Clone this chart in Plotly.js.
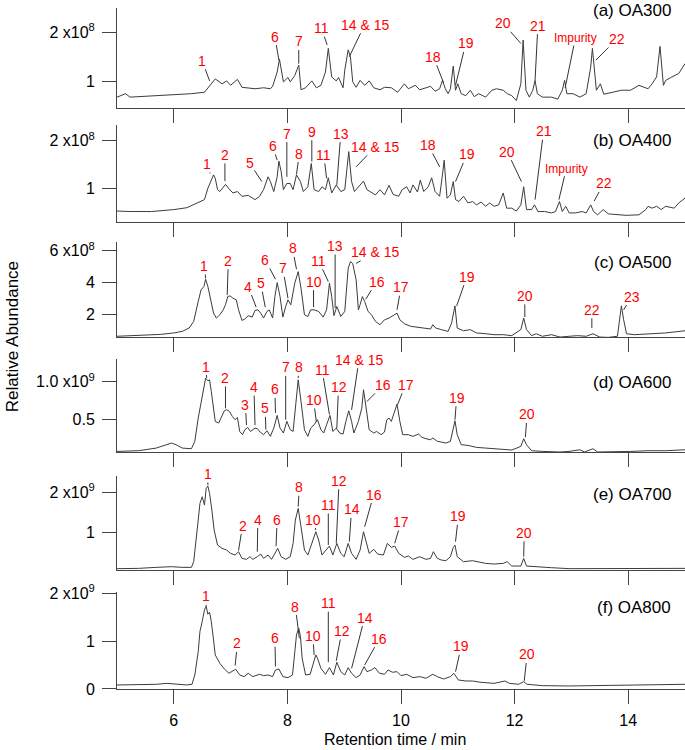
<!DOCTYPE html>
<html>
<head>
<meta charset="utf-8">
<script src="https://cdn.plot.ly/plotly-3.0.1.min.js"></script>
<style>html,body{margin:0;padding:0;background:#fff;}#chart{width:685px;height:750px;}</style>
</head>
<body>
<div id="chart"></div>
<script>
// ---------- DATA (retention time in min, abundance in units of 1e8 for a-c, 1e9 for d-f) ----------
const timeA = [5.00,5.15,5.23,5.61,6.00,6.31,6.54,6.63,6.73,6.85,6.93,7.00,7.12,7.20,7.31,7.43,7.58,7.70,7.74,7.82,7.86,7.93,8.01,8.05,8.13,8.20,8.24,8.32,8.43,8.51,8.59,8.67,8.72,8.78,8.86,8.90,8.98,9.01,9.07,9.11,9.15,9.21,9.28,9.36,9.44,9.52,9.63,9.71,9.83,9.94,10.06,10.13,10.25,10.33,10.44,10.52,10.60,10.68,10.73,10.78,10.83,10.87,10.92,10.96,11.00,11.06,11.14,11.22,11.29,11.37,11.49,11.60,11.68,11.80,11.87,11.95,12.03,12.11,12.15,12.20,12.26,12.32,12.36,12.40,12.49,12.65,12.76,12.84,12.88,12.92,13.03,13.15,13.26,13.34,13.37,13.44,13.51,13.57,13.73,13.88,14.04,14.19,14.35,14.42,14.50,14.56,14.62,14.66,14.77,14.89,15.00];
const abundA = [0.68,0.75,0.68,0.70,0.72,0.75,0.78,0.90,1.05,0.95,1.01,0.92,1.04,0.88,0.87,0.85,0.87,0.85,0.90,1.19,1.45,0.99,1.08,0.99,1.12,1.33,0.83,0.87,1.01,0.87,0.92,1.19,1.67,1.09,1.01,1.08,0.87,1.23,1.64,1.50,0.99,0.88,1.02,0.92,1.01,0.87,0.83,0.88,0.87,0.78,0.95,0.85,0.92,0.83,0.87,0.90,0.80,0.85,1.02,0.85,0.75,0.85,1.31,0.82,0.95,0.75,0.71,0.82,0.69,0.75,0.68,0.82,0.85,0.82,0.75,0.71,0.61,0.95,1.84,0.82,0.68,0.82,1.02,0.75,0.68,0.68,0.64,0.82,1.02,0.75,0.75,0.68,0.75,1.29,1.67,0.82,0.95,0.74,0.78,0.82,0.82,0.92,0.85,0.95,1.09,1.71,0.92,1.02,1.09,1.16,1.36];

const timeB = [5.00,5.23,5.61,6.00,6.23,6.46,6.54,6.60,6.66,6.70,6.73,6.77,6.81,6.87,6.91,6.97,7.04,7.12,7.20,7.31,7.43,7.51,7.58,7.66,7.70,7.76,7.82,7.85,7.89,7.93,7.99,8.05,8.10,8.16,8.23,8.28,8.36,8.42,8.47,8.55,8.61,8.67,8.72,8.78,8.86,8.94,9.01,9.08,9.13,9.18,9.26,9.34,9.40,9.48,9.55,9.63,9.71,9.79,9.86,9.96,10.02,10.10,10.16,10.21,10.29,10.34,10.40,10.48,10.54,10.60,10.68,10.73,10.76,10.81,10.87,10.92,10.96,11.02,11.10,11.18,11.26,11.33,11.41,11.49,11.56,11.64,11.72,11.80,11.86,11.95,12.03,12.11,12.16,12.21,12.30,12.35,12.41,12.53,12.65,12.72,12.79,12.84,12.90,12.96,13.07,13.19,13.26,13.34,13.39,13.46,13.56,13.65,13.81,13.96,14.19,14.31,14.35,14.42,14.50,14.58,14.66,14.81,14.89,15.00];
const abundB = [0.52,0.51,0.51,0.55,0.59,0.71,0.76,1.00,1.17,1.28,1.21,0.97,0.93,1.03,1.08,0.99,0.90,0.93,0.83,0.85,0.76,0.83,0.97,1.24,1.14,0.93,1.24,1.57,1.35,0.97,1.10,1.10,0.97,1.28,1.14,0.93,1.03,1.52,0.97,0.93,1.03,0.97,1.22,0.90,1.07,0.93,0.97,1.77,1.14,0.93,1.03,1.15,0.97,0.92,0.86,0.97,0.86,1.06,0.87,0.83,0.97,1.03,0.90,1.07,0.92,1.17,0.93,1.03,1.22,0.93,0.83,1.28,1.59,0.79,0.86,1.14,0.76,0.72,0.83,0.69,0.72,0.65,0.71,0.62,0.69,0.62,0.65,0.90,0.58,0.58,0.52,0.65,1.03,0.55,0.55,0.65,0.51,0.51,0.48,0.51,0.72,0.51,0.62,0.48,0.48,0.51,0.48,0.65,0.51,0.44,0.55,0.46,0.44,0.43,0.44,0.55,0.62,0.58,0.62,0.55,0.62,0.58,0.69,0.79];

const timeC = [5.00,5.38,5.77,6.00,6.15,6.27,6.35,6.43,6.48,6.53,6.56,6.60,6.64,6.70,6.75,6.81,6.87,6.91,6.95,6.99,7.04,7.10,7.14,7.20,7.25,7.31,7.38,7.43,7.48,7.53,7.58,7.64,7.68,7.74,7.78,7.82,7.87,7.92,7.97,8.01,8.06,8.13,8.19,8.24,8.30,8.36,8.41,8.47,8.55,8.63,8.69,8.74,8.78,8.82,8.87,8.94,9.01,9.07,9.11,9.15,9.21,9.25,9.28,9.32,9.36,9.42,9.48,9.55,9.63,9.71,9.79,9.86,9.93,9.98,10.06,10.17,10.29,10.40,10.52,10.56,10.61,10.71,10.83,10.89,10.95,10.99,11.10,11.22,11.33,11.49,11.64,11.80,11.95,12.11,12.16,12.21,12.30,12.38,12.49,12.65,12.80,12.96,13.11,13.26,13.38,13.50,13.65,13.81,13.85,13.88,13.92,13.97,14.11,14.35,14.66,15.00];
const abundC = [0.60,0.64,0.72,0.81,0.91,1.12,1.54,2.80,3.53,3.74,4.20,3.74,3.01,2.06,1.75,1.96,2.27,2.59,3.11,3.15,3.01,2.90,2.27,1.60,1.69,1.90,1.81,2.23,2.27,2.06,1.75,2.17,2.27,1.75,3.11,3.99,3.11,1.81,2.48,2.90,2.59,3.95,4.68,3.63,1.96,1.85,2.27,2.27,2.17,1.81,2.27,3.95,3.11,1.90,2.48,1.85,2.17,4.89,5.31,5.20,4.16,2.27,2.59,3.11,2.80,2.17,1.96,1.54,1.33,1.64,1.75,1.90,2.06,1.64,1.39,1.23,1.16,1.12,1.06,1.33,1.12,1.02,0.91,1.43,2.52,1.12,0.95,1.02,0.81,0.76,0.70,0.70,0.64,1.02,1.75,1.02,0.64,0.76,0.60,0.70,0.55,0.60,0.64,0.60,0.76,0.55,0.53,0.60,1.85,2.52,1.64,0.76,0.70,0.76,0.81,0.95];

const timeD = [5.00,5.38,5.69,5.88,5.96,6.04,6.15,6.31,6.37,6.43,6.48,6.53,6.56,6.60,6.63,6.66,6.70,6.73,6.79,6.85,6.89,6.93,6.98,7.03,7.08,7.12,7.16,7.21,7.25,7.30,7.35,7.43,7.47,7.52,7.58,7.64,7.70,7.76,7.82,7.87,7.93,7.99,8.05,8.10,8.15,8.19,8.24,8.30,8.36,8.41,8.47,8.53,8.59,8.64,8.69,8.75,8.80,8.86,8.92,8.98,9.03,9.08,9.13,9.17,9.25,9.31,9.34,9.38,9.44,9.52,9.57,9.65,9.71,9.75,9.79,9.83,9.88,9.93,9.98,10.03,10.13,10.21,10.31,10.37,10.44,10.52,10.56,10.64,10.71,10.79,10.87,10.92,10.95,10.99,11.06,11.18,11.33,11.49,11.64,11.80,11.95,12.11,12.16,12.21,12.30,12.49,12.80,12.96,13.15,13.23,13.38,13.46,13.73,14.04,14.35,14.66,15.00];
const abundD = [0.083,0.092,0.127,0.171,0.193,0.171,0.127,0.118,0.215,0.522,0.741,0.961,1.048,1.013,1.026,0.873,0.632,0.478,0.456,0.566,0.618,0.632,0.610,0.544,0.500,0.531,0.346,0.303,0.368,0.399,0.346,0.390,0.382,0.338,0.303,0.355,0.281,0.390,0.557,0.390,0.325,0.478,0.368,0.346,0.697,1.026,0.741,0.368,0.281,0.390,0.434,0.500,0.368,0.325,0.434,0.557,0.346,0.390,0.325,0.311,0.478,0.618,0.478,0.325,0.478,0.654,0.895,0.697,0.368,0.325,0.346,0.303,0.338,0.500,0.522,0.478,0.610,0.706,0.478,0.303,0.303,0.281,0.311,0.268,0.250,0.237,0.260,0.215,0.206,0.193,0.215,0.390,0.487,0.303,0.171,0.162,0.136,0.127,0.118,0.105,0.101,0.149,0.250,0.171,0.092,0.083,0.075,0.083,0.105,0.075,0.118,0.075,0.075,0.083,0.092,0.092,0.105];

const timeE = [5.00,5.38,5.69,5.96,6.15,6.31,6.35,6.39,6.43,6.46,6.50,6.54,6.57,6.60,6.63,6.67,6.71,6.77,6.85,6.93,7.00,7.08,7.14,7.20,7.28,7.34,7.39,7.47,7.53,7.58,7.66,7.72,7.78,7.83,7.89,7.97,8.05,8.10,8.14,8.19,8.24,8.30,8.36,8.43,8.50,8.55,8.61,8.67,8.74,8.80,8.87,8.94,9.00,9.07,9.13,9.21,9.28,9.34,9.38,9.44,9.52,9.59,9.69,9.76,9.83,9.89,9.96,10.06,10.13,10.21,10.33,10.44,10.52,10.57,10.64,10.71,10.79,10.87,10.92,10.95,10.99,11.10,11.26,11.33,11.49,11.64,11.80,11.87,11.95,12.11,12.16,12.21,12.34,12.65,12.96,13.34,13.73,14.11,14.50,15.00];
const abundE = [0.100,0.107,0.132,0.149,0.132,0.132,0.273,0.727,1.306,1.719,1.884,1.678,2.091,2.149,1.967,1.554,1.058,0.686,0.603,0.562,0.479,0.438,0.521,0.355,0.331,0.397,0.331,0.397,0.463,0.355,0.438,0.331,0.479,0.603,0.397,0.331,0.397,0.727,1.306,1.595,1.140,0.562,0.438,0.727,1.017,0.810,0.438,0.545,0.661,0.438,0.727,0.479,0.397,0.727,0.479,0.331,0.562,1.017,0.810,0.479,0.579,0.463,0.438,0.727,0.628,0.661,0.479,0.380,0.414,0.331,0.397,0.331,0.355,0.521,0.355,0.314,0.298,0.397,0.628,0.686,0.397,0.273,0.298,0.273,0.231,0.215,0.231,0.273,0.165,0.165,0.355,0.165,0.149,0.124,0.100,0.100,0.100,0.100,0.107,0.107];

const timeF = [5.00,5.38,5.69,5.88,6.00,6.23,6.32,6.37,6.43,6.46,6.50,6.54,6.57,6.60,6.63,6.66,6.70,6.73,6.81,6.89,6.97,7.03,7.09,7.16,7.24,7.31,7.39,7.51,7.58,7.66,7.74,7.79,7.85,7.92,8.01,8.09,8.13,8.16,8.20,8.23,8.26,8.32,8.40,8.46,8.50,8.53,8.59,8.67,8.74,8.81,8.87,8.94,9.01,9.07,9.13,9.21,9.28,9.35,9.40,9.48,9.54,9.62,9.71,9.77,9.85,9.93,10.00,10.10,10.21,10.33,10.44,10.56,10.64,10.75,10.87,10.93,11.01,11.14,11.26,11.41,11.64,11.83,11.91,12.07,12.16,12.22,12.49,12.96,13.34,13.73,14.11,14.50,15.00];
const abundF = [0.084,0.084,0.098,0.118,0.105,0.084,0.098,0.293,0.780,1.199,1.408,1.652,1.721,1.561,1.603,1.408,1.024,0.711,0.537,0.418,0.328,0.362,0.411,0.293,0.258,0.328,0.258,0.307,0.279,0.293,0.258,0.397,0.418,0.258,0.237,0.293,0.711,1.129,1.268,1.094,0.641,0.293,0.307,0.571,0.711,0.641,0.432,0.307,0.446,0.293,0.557,0.362,0.293,0.446,0.328,0.237,0.293,0.467,0.362,0.397,0.446,0.328,0.307,0.397,0.349,0.362,0.279,0.307,0.237,0.258,0.223,0.307,0.258,0.209,0.258,0.328,0.188,0.167,0.167,0.139,0.118,0.167,0.118,0.098,0.153,0.098,0.070,0.063,0.070,0.070,0.070,0.084,0.098];

// Peak labels (text), peak times and peak heights the leader lines point to
const peakLabelsA = ['1','6','7','11','14 & 15','18','19','20','21','Impurity','22'];
const peakTimesA  = [6.63,7.85,8.20,8.70,9.09,10.75,10.96,12.11,12.36,12.89,13.43];
const peakTipsA   = [1.01,1.43,1.36,1.74,1.50,0.97,0.92,1.77,1.02,0.87,1.43];

const peakLabelsB = ['1','2','5','6','7','8','9','11','13','14 & 15','18','19','20','21','Impurity','22'];
const peakTimesB  = [6.64,6.90,7.55,7.82,7.99,8.16,8.43,8.69,8.87,9.21,10.68,10.96,12.12,12.36,12.78,13.40];
const peakTipsB   = [1.31,1.15,1.14,1.59,1.24,1.29,1.56,1.21,1.07,1.45,1.45,1.14,1.14,0.76,0.76,0.73];

const peakLabelsC = ['1','2','4','5','6','7','8','10','11','13','14 & 15','16','17','19','20','22','23'];
const peakTimesC  = [6.56,6.94,7.45,7.61,7.79,8.01,8.16,8.46,8.72,8.84,9.21,9.38,9.93,10.98,12.18,13.36,13.92];
const peakTipsC   = [4.26,3.21,2.44,2.44,4.20,3.00,4.83,2.44,4.05,2.38,5.20,2.94,2.27,2.52,1.81,1.12,2.27];

const peakLabelsD = ['1','2','3','4','5','6','7','8','10','11','12','14 & 15','16','17','19','20'];
const peakTimesD  = [6.58,6.91,7.28,7.43,7.62,7.79,7.97,8.19,8.51,8.74,8.87,9.13,9.40,9.94,10.95,12.19];
const peakTipsD   = [1.05,0.65,0.43,0.43,0.37,0.59,0.50,1.05,0.47,0.57,0.39,0.63,0.74,0.70,0.50,0.27];

const peakLabelsE = ['1','2','4','6','8','10','11','12','14','16','17','19','20'];
const peakTimesE  = [6.60,7.14,7.47,7.80,8.19,8.50,8.72,8.86,9.09,9.36,9.89,10.96,12.16];
const peakTipsE   = [2.17,0.55,0.52,0.66,1.64,1.06,0.69,0.73,0.77,1.14,0.73,0.77,0.40];

const peakLabelsF = ['1','2','6','8','10','11','12','14','16','19','20'];
const peakTimesF  = [6.57,7.08,7.79,8.21,8.47,8.72,8.86,9.13,9.36,10.96,12.17];
const peakTipsF   = [1.72,0.49,0.47,1.06,0.71,0.56,0.59,0.43,0.50,0.36,0.17];

// Panel names and tick labels
const panelNames = ['(a) OA300','(b) OA400','(c) OA500','(d) OA600','(e) OA700','(f) OA800'];
const yTickVals = [[1,2],[1,2],[2,4,6],[0.5,1.0],[1,2],[0,1,2]];
const yTickText = [
  ['1','2 x10<sup>8</sup>'],
  ['1','2 x10<sup>8</sup>'],
  ['2','4','6 x10<sup>8</sup>'],
  ['0.5','1.0 x10<sup>9</sup>'],
  ['1','2 x10<sup>9</sup>'],
  ['0','1','2 x10<sup>9</sup>']
];
const xTickVals = [6,8,10,12,14];
const xTitle = 'Retention time / min';
const yTitle = 'Relative Abundance';

// ---------- LAYOUT / STYLE ----------
const FONT = 'Arial, "Liberation Sans", sans-serif';
const AXC = '#444444';
const LINEC = '#3c3c3c';
const RED = '#ff0000';

// label text placement (time, value) for each panel, same order as the label arrays
const labelPos = [
  [[6.50,1.42],[7.78,1.91],[8.20,1.81],[8.60,2.08],[9.36,2.15],[10.57,1.50],[11.14,1.77],[11.80,2.18],[12.41,2.13],[13.07,1.88],[13.80,1.86]],
  [[6.58,1.51],[6.90,1.70],[7.34,1.52],[7.74,1.89],[7.99,2.15],[8.21,1.73],[8.43,2.19],[8.64,1.70],[8.94,2.15],[9.55,1.87],[10.48,1.91],[11.16,1.71],[11.87,1.77],[12.51,2.20],[12.91,1.41],[13.57,1.10]],
  [[6.54,5.04],[6.96,5.37],[7.31,3.74],[7.53,3.95],[7.61,5.41],[7.92,4.89],[8.09,6.15],[8.46,4.05],[8.55,5.37],[8.84,6.30],[9.55,5.90],[9.57,4.05],[10.00,3.70],[11.16,4.37],[12.18,3.15],[13.36,2.27],[14.06,3.11]],
  [[6.56,1.20],[6.91,1.05],[7.26,0.70],[7.41,0.93],[7.61,0.65],[7.78,0.90],[7.97,1.19],[8.21,1.19],[8.46,0.76],[8.61,1.16],[8.90,0.93],[9.26,1.29],[9.69,0.96],[10.08,0.96],[10.98,0.79],[12.22,0.57]],
  [[6.60,2.45],[7.21,1.17],[7.48,1.32],[7.82,1.32],[8.21,2.12],[8.45,1.32],[8.72,1.68],[8.91,2.28],[9.13,1.57],[9.52,1.94],[10.00,1.26],[11.01,1.40],[12.17,0.99]],
  [[6.56,1.93],[7.12,0.95],[7.78,1.06],[8.14,1.72],[8.45,1.11],[8.72,1.79],[8.96,1.21],[9.36,1.49],[9.62,1.05],[11.06,0.89],[12.22,0.72]]
];

const yRanges = [[0.46,2.49],[0.29,2.33],[0.555,6.57],[0.075,1.30],[0.066,2.40],[0,2.03]];
const domains = [[0.8532,1.0],[0.6858,0.8282],[0.5169,0.6568],[0.3480,0.4846],[0.1747,0.3128],[0,0.1429]];
const panelLabelY = [0.997,0.806,0.6256,0.4508,0.2863,0.119];

const times = [timeA,timeB,timeC,timeD,timeE,timeF];
const abunds = [abundA,abundB,abundC,abundD,abundE,abundF];
const labels = [peakLabelsA,peakLabelsB,peakLabelsC,peakLabelsD,peakLabelsE,peakLabelsF];
const ptimes = [peakTimesA,peakTimesB,peakTimesC,peakTimesD,peakTimesE,peakTimesF];
const ptips = [peakTipsA,peakTipsB,peakTipsC,peakTipsD,peakTipsE,peakTipsF];

const traces = [];
const layout = {
  width: 685, height: 750,
  margin: {l: 117, r: 0, t: 8, b: 61},
  paper_bgcolor: '#ffffff', plot_bgcolor: '#ffffff',
  showlegend: false,
  font: {family: FONT, color: '#000', size: 16},
  annotations: []
};

for (let i = 0; i < 6; i++) {
  const n = i === 0 ? '' : String(i + 1);
  const xa = 'x' + n, ya = 'y' + n;
  traces.push({
    x: times[i], y: abunds[i], type: 'scatter', mode: 'lines',
    xaxis: xa, yaxis: ya,
    line: {color: LINEC, width: 1}, hoverinfo: 'skip'
  });
  layout['xaxis' + n] = {
    domain: [0, 1], anchor: ya, range: [5, 15],
    showline: true, linecolor: AXC, linewidth: 1,
    ticks: 'outside', ticklen: 14, tickcolor: AXC, tickwidth: 1,
    tickmode: 'array', tickvals: xTickVals,
    showticklabels: i === 5, showgrid: false, zeroline: false,
    tickfont: {family: FONT, size: 16, color: '#000'},
    ticklabelstandoff: 3
  };
  layout['yaxis' + n] = {
    domain: domains[i], anchor: xa, range: yRanges[i],
    showline: true, linecolor: AXC, linewidth: 1,
    ticks: 'outside', ticklen: 14, tickcolor: AXC, tickwidth: 1,
    tickmode: 'array', tickvals: yTickVals[i], ticktext: yTickText[i],
    showgrid: false, zeroline: false,
    tickfont: {family: FONT, size: 16, color: '#000'},
    ticklabelstandoff: 4
  };
  for (let k = 0; k < labels[i].length; k++) {
    const txt = labels[i][k];
    layout.annotations.push({
      xref: xa, yref: ya, axref: xa, ayref: ya,
      x: ptimes[i][k], y: ptips[i][k],
      ax: labelPos[i][k][0], ay: labelPos[i][k][1],
      text: txt, showarrow: true, arrowhead: 0, arrowwidth: 1, arrowcolor: '#333333',
      standoff: 0, startstandoff: 0, borderpad: 0,
      font: {family: FONT, size: txt === 'Impurity' ? 12 : 14, color: RED}
    });
  }
  layout.annotations.push({
    xref: 'paper', yref: 'paper', x: 0.979, y: panelLabelY[i],
    xanchor: 'right', yanchor: 'middle', showarrow: false,
    text: panelNames[i], font: {family: FONT, size: 17, color: '#000'}
  });
}
layout.annotations.push({
  xref: 'paper', yref: 'paper', x: -0.185, y: 0.518, textangle: -90,
  xanchor: 'center', yanchor: 'middle', showarrow: false,
  text: yTitle, font: {family: FONT, size: 17, color: '#000'}
});
layout.annotations.push({
  xref: 'paper', yref: 'paper', x: 0.489, y: -0.0881,
  xanchor: 'center', yanchor: 'bottom', showarrow: false, borderpad: 0,
  text: xTitle, font: {family: FONT, size: 16, color: '#000'}
});

Plotly.newPlot('chart', traces, layout, {staticPlot: true, displayModeBar: false});
</script>
</body>
</html>
